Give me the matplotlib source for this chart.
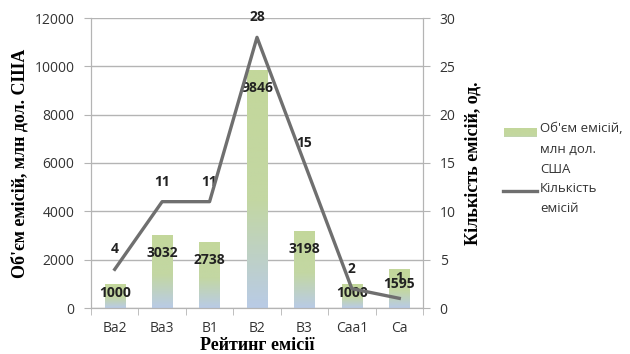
import matplotlib.pyplot as plt
import numpy as np
from matplotlib.colors import LinearSegmentedColormap
from matplotlib.lines import Line2D

ratings = ['Ba2', 'Ba3', 'B1', 'B2', 'B3', 'Caa1', 'Ca']
volume = [1000, 3032, 2738, 9846, 3198, 1000, 1595]
count = [4, 11, 11, 28, 15, 2, 1]
legend_labels = ["Об'єм емісій,\nмлн дол.\nСША", 'Кількість\nемісій']

sans = 'Open Sans'
serif = 'Liberation Serif'
line_col = '#6f6f6f'
grid_col = '#b4b4b4'
text_col = '#333333'

W, H = 630, 354


def fx(px):
    return px / W


def fy(py):
    return 1 - py / H


fig = plt.figure(figsize=(W / 100, H / 100), dpi=100)
ax = fig.add_axes([fx(91), fy(308), fx(332), 290 / H])
ax2 = ax.twinx()

x = np.arange(len(ratings))
bars = ax.bar(x, volume, width=0.43, color='none', edgecolor='none', zorder=2)

# green-to-blue gradient inside every bar
grad_cmap = LinearSegmentedColormap.from_list(
    'g', [(0.0, '#b9cbe6'), (0.45, '#c3d7a3'), (1.0, '#c3d79b')])
grad = np.linspace(0, 1, 256).reshape(-1, 1)
for b in bars:
    x0, y0 = b.get_x(), b.get_y()
    im = ax.imshow(grad, cmap=grad_cmap, origin='lower', aspect='auto',
                   extent=[x0, x0 + b.get_width(), y0, y0 + b.get_height()],
                   zorder=2)
    im.set_clip_path(b)

for xi, v in zip(x, volume):
    ax.text(xi, v - min(745, 0.37 * v), str(v), ha='center', va='center',
            fontsize=10, fontweight='bold', family=sans, color='#222222', zorder=5)

ax.set_xlim(-0.5, len(ratings) - 0.5)
ax.set_ylim(0, 12000)
ax.set_yticks(range(0, 12001, 2000))
ax.grid(axis='y', color=grid_col, linewidth=1)
ax.set_axisbelow(True)

ax2.plot(x, count, color=line_col, linewidth=2.4, zorder=4)
for xi, c in zip(x, count):
    ax2.annotate(str(c), (xi, c), xytext=(0, 14.5), textcoords='offset points',
                 ha='center', va='center', fontsize=10, fontweight='bold',
                 family=sans, color='#222222')
ax2.set_ylim(0, 30)
ax2.set_yticks(range(0, 31, 5))

for a in (ax, ax2):
    a.spines['top'].set_visible(False)
    for s in ('left', 'right', 'bottom'):
        a.spines[s].set_color(grid_col)
    a.tick_params(axis='y', length=5, color=grid_col, labelsize=10,
                  labelcolor=text_col, pad=7)
    for lbl in a.get_yticklabels():
        lbl.set_family(sans)

ax.set_xticks(x)
ax.set_xticklabels(ratings, family=sans, fontsize=10, color=text_col)
ax.tick_params(axis='x', length=0, pad=9)
ax.set_xticks(np.arange(-0.5, len(ratings), 1), minor=True)
ax.tick_params(axis='x', which='minor', length=5, color=grid_col)

ax.set_ylabel("Об'єм емісій, млн дол. США", family=serif, fontweight='bold',
              fontsize=13, labelpad=4)
ax2.set_ylabel('Кількість емісій, од.', family=serif, fontweight='bold',
               fontsize=13, labelpad=6)
ax.set_xlabel('Рейтинг емісії', family=serif, fontweight='bold',
              fontsize=13, labelpad=1)

# legend: gradient swatch + line sample, wrapped text to the right
sw_ax = fig.add_axes([fx(504), fy(137), fx(33), 9 / H])
sw_ax.imshow(np.linspace(0, 1, 64).reshape(-1, 1) ** 0.25, cmap=grad_cmap,
             origin='lower', aspect='auto', extent=[0, 1, 0, 1])
sw_ax.set_axis_off()
fig.add_artist(Line2D([fx(503), fx(537)], [fy(191), fy(191)],
                      transform=fig.transFigure, color=line_col, linewidth=2.4))
fig.text(fx(540), fy(122), legend_labels[0], family=sans, fontsize=9.5,
         color=text_col, va='top', ha='left', linespacing=1.75)
fig.text(fx(540), fy(182), legend_labels[1], family=sans, fontsize=9.5,
         color=text_col, va='top', ha='left', linespacing=1.75)

fig.savefig('out.png', dpi=100)
